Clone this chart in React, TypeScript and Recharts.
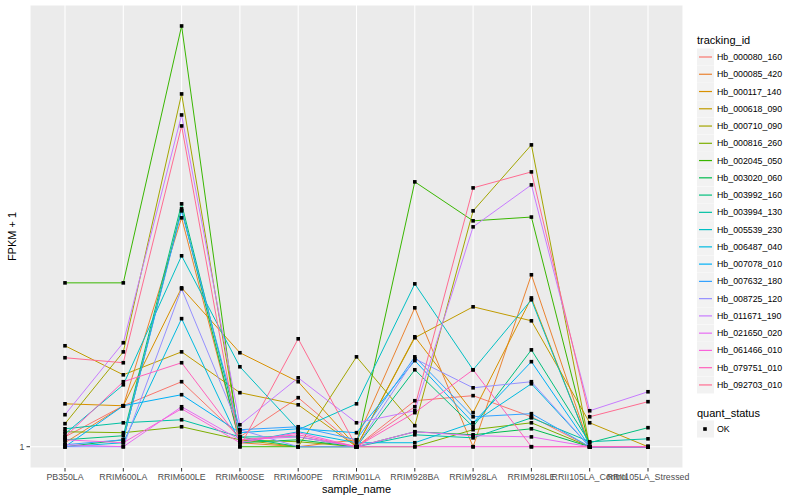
import { CartesianGrid, Line, LineChart, XAxis, YAxis } from "recharts";

const samples = [
  "PB350LA",
  "RRIM600LA",
  "RRIM600LE",
  "RRIM600SE",
  "RRIM600PE",
  "RRIM901LA",
  "RRIM928BA",
  "RRIM928LA",
  "RRIM928LE",
  "RRII105LA_Control",
  "RRII105LA_Stressed"
];

// FPKM + 1, one value per sample
const hb000080_160 = [1.05, 1.225, 1.38, 1.05, 1.275, 1, 1.256, 1.288, 1.16, 1, 1];
const hb000085_420 = [1.02, 1.225, 3.108, 1.02, 1, 1.035, 1.99, 1, 2.344, 1, 1];
const hb000117_140 = [1.237, 1.225, 2.197, 1.593, 1.38, 1, 1.724, 1.184, 2.09, 1, 1];
const hb000618_090 = [1.649, 1.428, 1.6, 1.307, 1.231, 1, 1.716, 2.0, 1.866, 1.126, 1];
const hb000710_090 = [1.121, 1.6, 5.742, 1.035, 1, 1.561, 1.11, 3.217, 4.461, 1, 1];
const hb000816_260 = [1.077, 1.072, 1.104, 1.035, 1.025, 1, 1, 1.088, 1.126, 1, 1];
const hb002045_050 = [2.252, 2.252, 8.04, 1, 1, 1, 3.714, 3.062, 3.12, 1, 1];
const hb003020_060 = [1, 1.035, 3.249, 1.02, 1.035, 1, 1.077, 1.061, 1.093, 1, 1];
const hb003992_160 = [1.035, 1.056, 3.331, 1.05, 1, 1, 1.464, 1.104, 1.616, 1.02, 1.099];
const hb003994_130 = [1.093, 1.126, 1.143, 1.05, 1.05, 1, 1.061, 1.045, 1.154, 1.025, 1.04];
const hb005539_230 = [1.066, 1.359, 2.575, 1.486, 1.088, 1.237, 2.241, 1.464, 2.071, 1, 1];
const hb006487_040 = [1, 1.02, 1.886, 1.02, 1.077, 1.02, 1.02, 1.126, 1.366, 1, 1];
const hb007078_010 = [1, 1.225, 1.294, 1.072, 1.093, 1.072, 1.532, 1.126, 1.524, 1, 1];
const hb007632_180 = [1.01, 1.035, 3.217, 1.088, 1.104, 1.035, 1.561, 1.16, 1.178, 1, 1];
const hb008725_120 = [1, 1, 2.187, 1.088, 1, 1, 1.546, 1.339, 1.38, 1, 1];
const hb011671_190 = [1.172, 1.674, 5.174, 1.115, 1.407, 1.126, 1.195, 2.972, 3.659, 1.195, 1.313];
const hb021650_020 = [1.01, 1, 1.219, 1.035, 1.05, 1, 1.077, 1.056, 1.05, 1, 1];
const hb061466_010 = [1.035, 1.02, 1.207, 1.02, 1.072, 1, 1, 1, 1, 1, 1];
const hb079751_010 = [1.05, 1.38, 1.516, 1.035, 1.061, 1, 1.184, 1.464, 1, 1, 1];
const hb092703_010 = [1.554, 1.516, 4.9, 1, 1.707, 1, 1.219, 3.605, 3.902, 1.16, 1.25];

const series = [
  { id: "Hb_000080_160", values: hb000080_160, color: "#F8766D" },
  { id: "Hb_000085_420", values: hb000085_420, color: "#EA8331" },
  { id: "Hb_000117_140", values: hb000117_140, color: "#D89000" },
  { id: "Hb_000618_090", values: hb000618_090, color: "#C09B00" },
  { id: "Hb_000710_090", values: hb000710_090, color: "#A3A500" },
  { id: "Hb_000816_260", values: hb000816_260, color: "#7CAE00" },
  { id: "Hb_002045_050", values: hb002045_050, color: "#39B600" },
  { id: "Hb_003020_060", values: hb003020_060, color: "#00BB4E" },
  { id: "Hb_003992_160", values: hb003992_160, color: "#00BF7D" },
  { id: "Hb_003994_130", values: hb003994_130, color: "#00C1A3" },
  { id: "Hb_005539_230", values: hb005539_230, color: "#00BFC4" },
  { id: "Hb_006487_040", values: hb006487_040, color: "#00BAE0" },
  { id: "Hb_007078_010", values: hb007078_010, color: "#00B0F6" },
  { id: "Hb_007632_180", values: hb007632_180, color: "#35A2FF" },
  { id: "Hb_008725_120", values: hb008725_120, color: "#9590FF" },
  { id: "Hb_011671_190", values: hb011671_190, color: "#C77CFF" },
  { id: "Hb_021650_020", values: hb021650_020, color: "#E76BF3" },
  { id: "Hb_061466_010", values: hb061466_010, color: "#FA62DB" },
  { id: "Hb_079751_010", values: hb079751_010, color: "#FF62BC" },
  { id: "Hb_092703_010", values: hb092703_010, color: "#FF6C91" }
];

const yTicks = [1];

const rows = samples.map((sample, i) => {
  const row: Record<string, string | number> = { sample };
  series.forEach((s) => {
    row[s.id] = s.values[i];
  });
  return row;
});

const font = "'Liberation Sans', Arial, Helvetica, sans-serif";

const squareDot = (props: any) => {
  const { cx, cy, index, dataKey } = props;
  if (cx == null || cy == null) return <g key={`${dataKey}-${index}`} />;
  return (
    <rect
      key={`${dataKey}-${index}`}
      x={cx - 1.8}
      y={cy - 1.8}
      width={3.6}
      height={3.6}
      fill="#000"
    />
  );
};

const YTitle = (props: any) => {
  const { viewBox } = props;
  const cy = viewBox.y + viewBox.height / 2;
  return (
    <text
      x={12}
      y={cy}
      transform={`rotate(-90, 12, ${cy})`}
      textAnchor="middle"
      dominantBaseline="central"
      fontSize={11}
      fill="#000"
      fontFamily={font}
    >
      FPKM + 1
    </text>
  );
};

const XTitle = (props: any) => {
  const { viewBox } = props;
  return (
    <text
      x={viewBox.x + viewBox.width / 2}
      y={493}
      textAnchor="middle"
      fontSize={11}
      fill="#000"
      fontFamily={font}
    >
      sample_name
    </text>
  );
};

function LegendPanel() {
  const top = 57;
  const step = 17.26;
  const okY = 429;
  return (
    <svg
      width={800}
      height={500}
      style={{ position: "absolute", left: 0, top: 0, pointerEvents: "none" }}
    >
      <text x={697} y={44} fontSize={11} fontFamily={font} fill="#000">
        tracking_id
      </text>
      {series.map((s, i) => {
        const y = top + i * step;
        return (
          <g key={s.id}>
            <rect x={697} y={y - 8.5} width={17} height={17} fill="#F2F2F2" />
            <line x1={699} x2={712} y1={y} y2={y} stroke={s.color} strokeWidth={1.2} />
            <text x={717} y={y + 3} fontSize={8.8} fontFamily={font} fill="#000">
              {s.id}
            </text>
          </g>
        );
      })}
      <text x={697} y={417} fontSize={11} fontFamily={font} fill="#000">
        quant_status
      </text>
      <rect x={697} y={okY - 8.5} width={17} height={17} fill="#F2F2F2" />
      <rect x={703.2} y={okY - 1.8} width={3.6} height={3.6} fill="#000" />
      <text x={717} y={okY + 3} fontSize={8.8} fontFamily={font} fill="#000">
        OK
      </text>
    </svg>
  );
}

export default function App() {
  return (
    <div style={{ position: "absolute", left: 0, top: 0, width: 800, height: 500, background: "#fff" }}>
      <LineChart
        width={800}
        height={500}
        data={rows}
        margin={{ top: 5, right: 117, bottom: 0, left: 0 }}
      >
        <CartesianGrid fill="#EBEBEB" stroke="#FFFFFF" strokeWidth={1.07} />
        <XAxis
          dataKey="sample"
          type="category"
          interval={0}
          height={32}
          padding={{ left: 35, right: 35 }}
          axisLine={false}
          tickLine={{ stroke: "#333333" }}
          tickSize={3.5}
          tickMargin={2}
          tick={{ fill: "#4D4D4D", fontSize: 8.8, fontFamily: font }}
          label={<XTitle />}
        />
        <YAxis
          scale="log"
          type="number"
          domain={[0.9, 8.92]}
          allowDataOverflow
          ticks={yTicks}
          width={30}
          axisLine={false}
          tickLine={{ stroke: "#333333" }}
          tickSize={3.5}
          tickMargin={2}
          tick={{ fill: "#4D4D4D", fontSize: 8.8, fontFamily: font }}
          label={<YTitle />}
        />
        {series.map((s) => (
          <Line
            key={s.id}
            dataKey={s.id}
            type="linear"
            stroke={s.color}
            strokeWidth={1}
            dot={false}
            activeDot={false}
            isAnimationActive={false}
          />
        ))}
        {series.map((s) => (
          <Line
            key={`${s.id}-pts`}
            dataKey={s.id}
            type="linear"
            stroke="transparent"
            strokeWidth={0}
            dot={squareDot}
            activeDot={false}
            legendType="none"
            isAnimationActive={false}
          />
        ))}
      </LineChart>
      <LegendPanel />
    </div>
  );
}
